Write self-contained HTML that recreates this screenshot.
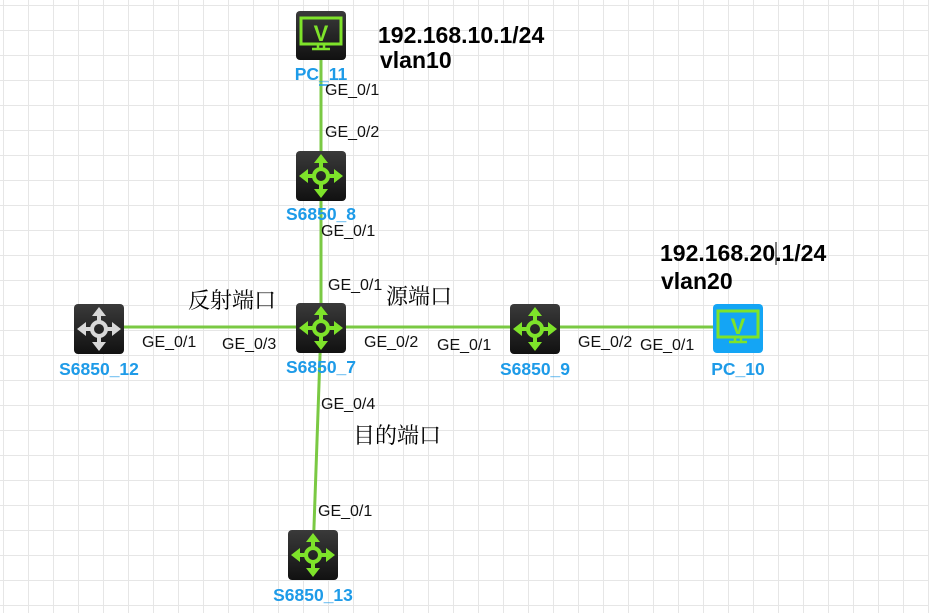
<!DOCTYPE html>
<html><head><meta charset="utf-8"><style>
html,body{margin:0;padding:0;background:#fff}
svg{display:block}
.lbl{font-family:"Liberation Sans",sans-serif;font-size:16px;fill:#111}
.name{font-family:"Liberation Sans",sans-serif;font-size:17.5px;font-weight:bold;fill:#1e9be8}
.big{font-family:"Liberation Sans",sans-serif;font-size:23px;font-weight:bold;fill:#000}
.cn{font-family:"Noto Serif CJK SC","Liberation Serif",serif;font-size:22px;fill:#000}
</style></head><body>
<svg width="929" height="613" viewBox="0 0 929 613" xmlns="http://www.w3.org/2000/svg">
<defs>
<pattern id="g" width="25" height="25" patternUnits="userSpaceOnUse" x="3" y="5">
<path d="M0 0H25M0 0V25" stroke="#e6e6e6" stroke-width="2" fill="none"/>
</pattern>
<linearGradient id="dk" x1="0" y1="0" x2="0" y2="1"><stop offset="0" stop-color="#3a3a3a"/><stop offset="1" stop-color="#111"/></linearGradient>
<g id="arrows">
<circle cx="0" cy="0" r="7" fill="none" stroke-width="4"/>
<path d="M0 -7V-15M0 7V15M-7 0H-15M7 0H15" stroke-width="4" fill="none"/>
<path d="M0 -22L-7 -13H7Z M0 22L-7 13H7Z M-22 0L-13 -7V7Z M22 0L13 -7V7Z" stroke="none"/>
</g>
</defs>
<rect width="929" height="613" fill="url(#g)"/>
<g stroke="#7ac943" stroke-width="3">
<line x1="321" y1="35" x2="321" y2="327"/>
<line x1="98" y1="327" x2="738" y2="327"/>
<line x1="321" y1="327" x2="313" y2="555"/>
</g>
<line x1="319" y1="85" x2="328" y2="85" stroke="#1e9be8" stroke-width="1.5"/>
<rect x="296" y="11" width="50" height="49" rx="4" fill="url(#dk)"/>
<rect x="301" y="18" width="40" height="26" fill="none" stroke="#7ee32a" stroke-width="3"/>
<text x="321" y="41" text-anchor="middle" font-family="Liberation Sans" font-weight="bold" font-size="22" fill="#7ee32a">V</text>
<path d="M318 44V48M324 44V48M312 49H330" stroke="#7ee32a" stroke-width="2.5"/>
<rect x="713" y="304" width="50" height="49" rx="4" fill="#14a5f5"/>
<rect x="718" y="311" width="40" height="26" fill="none" stroke="#7ee32a" stroke-width="3"/>
<text x="738" y="334" text-anchor="middle" font-family="Liberation Sans" font-weight="bold" font-size="22" fill="#7ee32a">V</text>
<path d="M735 337V341M741 337V341M729 342H747" stroke="#7ee32a" stroke-width="2.5"/>
<rect x="296" y="151" width="50" height="50" rx="4" fill="url(#dk)"/>
<use href="#arrows" x="321" y="176" fill="#7ee32a" stroke="#7ee32a"/>
<rect x="296" y="303" width="50" height="50" rx="4" fill="url(#dk)"/>
<use href="#arrows" x="321" y="328" fill="#7ee32a" stroke="#7ee32a"/>
<rect x="74" y="304" width="50" height="50" rx="4" fill="url(#dk)"/>
<use href="#arrows" x="99" y="329" fill="#d8d8d8" stroke="#d8d8d8"/>
<rect x="510" y="304" width="50" height="50" rx="4" fill="url(#dk)"/>
<use href="#arrows" x="535" y="329" fill="#7ee32a" stroke="#7ee32a"/>
<rect x="288" y="530" width="50" height="50" rx="4" fill="url(#dk)"/>
<use href="#arrows" x="313" y="555" fill="#7ee32a" stroke="#7ee32a"/>
<text class="name" x="321" y="80" text-anchor="middle">PC_11</text>
<text class="name" x="321" y="220" text-anchor="middle">S6850_8</text>
<text class="name" x="321" y="373" text-anchor="middle">S6850_7</text>
<text class="name" x="99" y="375" text-anchor="middle">S6850_12</text>
<text class="name" x="535" y="375" text-anchor="middle">S6850_9</text>
<text class="name" x="738" y="375" text-anchor="middle">PC_10</text>
<text class="name" x="313" y="601" text-anchor="middle">S6850_13</text>
<text class="lbl" x="325" y="95">GE_0/1</text>
<text class="lbl" x="325" y="137">GE_0/2</text>
<text class="lbl" x="321" y="236">GE_0/1</text>
<text class="lbl" x="328" y="290">GE_0/1</text>
<text class="lbl" x="142" y="347">GE_0/1</text>
<text class="lbl" x="222" y="349">GE_0/3</text>
<text class="lbl" x="364" y="347">GE_0/2</text>
<text class="lbl" x="437" y="350">GE_0/1</text>
<text class="lbl" x="578" y="347">GE_0/2</text>
<text class="lbl" x="640" y="350">GE_0/1</text>
<text class="lbl" x="321" y="409">GE_0/4</text>
<text class="lbl" x="318" y="516">GE_0/1</text>
<text class="big" x="378" y="43">192.168.10.1/24</text>
<text class="big" x="380" y="68">vlan10</text>
<text class="big" x="660" y="261">192.168.20.1/24</text>
<line x1="776" y1="242" x2="776" y2="265" stroke="#000" stroke-width="1"/>
<text class="big" x="661" y="289">vlan20</text>
<text class="cn" x="188" y="308">反射端口</text>
<text class="cn" x="386" y="304">源端口</text>
<text class="cn" x="353" y="443">目的端口</text>
</svg>
</body></html>
